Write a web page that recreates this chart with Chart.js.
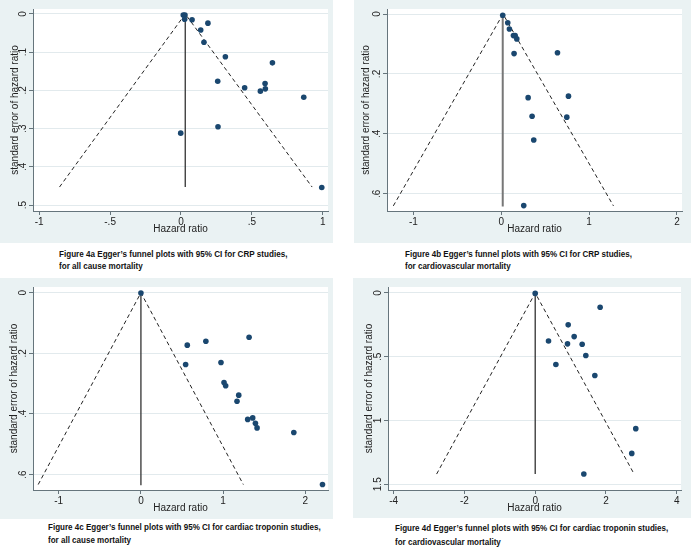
<!DOCTYPE html>
<html>
<head>
<meta charset="utf-8">
<script src="https://cdn.jsdelivr.net/npm/chart.js@4.4.1/dist/chart.umd.min.js"></script>
<style>
  body { margin: 0; background: #fff; width: 691px; height: 549px; position: relative; overflow: hidden; }
  canvas { position: absolute; background: #eaf2f3; }
  .cap { position: absolute; font-family: "Liberation Sans", Arial, sans-serif; font-weight: bold; font-size: 8.6px; line-height: 1; color: #111; white-space: nowrap; transform-origin: 0 50%; }
</style>
</head>
<body>
<canvas id="ca" width="333" height="243" style="left:0;top:0"></canvas>
<canvas id="cb" width="337" height="243" style="left:354px;top:0"></canvas>
<canvas id="cc" width="333" height="241" style="left:0;top:278px"></canvas>
<canvas id="cd" width="338" height="240" style="left:353px;top:278px"></canvas>

<div class="cap" data-w="228" style="left:59px;top:250px">Figure 4a Egger’s funnel plots with 95% CI for CRP studies,</div>
<div class="cap" style="left:59px;top:262px">for all cause mortality</div>
<div class="cap" data-w="227" style="left:405px;top:250px">Figure 4b Egger’s funnel plots with 95% CI for CRP studies,</div>
<div class="cap" style="left:405px;top:262px">for cardiovascular mortality</div>
<div class="cap" data-w="273" style="left:48px;top:523px">Figure 4c Egger’s funnel plots with 95% CI for cardiac troponin studies,</div>
<div class="cap" style="left:48px;top:536px">for all cause mortality</div>
<div class="cap" data-w="273" style="left:395px;top:524px">Figure 4d Egger’s funnel plots with 95% CI for cardiac troponin studies,</div>
<div class="cap" style="left:395px;top:538px">for cardiovascular mortality</div>

<script>
// 4a: CRP, all cause mortality
const aHR = [0.016, 0.028, 0.026, 0.078, 0.19, 0.139, 0.162, 0.313, 0.645, 0.259, 0.593, 0.449, 0.595, 0.56, 0.866, 0.261, -0.002, 0.993];
const aSE = [0.003, 0.003, 0.014, 0.015, 0.024, 0.042, 0.074, 0.112, 0.128, 0.176, 0.182, 0.193, 0.196, 0.202, 0.218, 0.295, 0.312, 0.454];
const aFunnelX = [-0.857, 0.03, 0.925];
const aFunnelY = [0.453, 0, 0.453];
const aLineX = [0.03, 0.03];
const aLineY = [0, 0.453];
const aXTicks = [-1, -0.5, 0, 0.5, 1];
const aYTicks = [0, 0.1, 0.2, 0.3, 0.4, 0.5];
const aXRange = [-1.044, 1.037];
const aYRange = [-0.013, 0.5157];

// 4b: CRP, cardiovascular mortality
const bHR = [0.017, 0.074, 0.093, 0.139, 0.158, 0.177, 0.146, 0.64, 0.306, 0.765, 0.351, 0.746, 0.37, 0.256];
const bSE = [0.004, 0.029, 0.05, 0.072, 0.072, 0.083, 0.132, 0.129, 0.279, 0.274, 0.341, 0.344, 0.42, 0.639];
const bFunnelX = [-1.228, 0.02, 1.277];
const bFunnelY = [0.64, 0, 0.64];
const bLineX = [0.017, 0.017];
const bLineY = [0, 0.642];
const bXTicks = [-1, 0, 1, 2];
const bYTicks = [0, 0.2, 0.4, 0.6];
const bXRange = [-1.30, 2.057];
const bYRange = [-0.0167, 0.657];

// 4c: cardiac troponin, all cause mortality
const cHR = [0, 0.564, 0.79, 1.316, 0.544, 0.974, 1.011, 1.031, 1.19, 1.169, 1.299, 1.36, 1.393, 1.413, 1.86, 2.209];
const cSE = [0.001, 0.173, 0.16, 0.147, 0.237, 0.23, 0.296, 0.307, 0.338, 0.358, 0.418, 0.413, 0.431, 0.446, 0.461, 0.633];
const cFunnelX = [-1.25, 0, 1.246];
const cFunnelY = [0.633, 0, 0.633];
const cLineX = [0, 0];
const cLineY = [0, 0.635];
const cXTicks = [-1, 0, 1, 2];
const cYTicks = [0, 0.2, 0.4, 0.6];
const cXRange = [-1.313, 2.276];
const cYRange = [-0.019, 0.651];

// 4d: cardiac troponin, cardiovascular mortality
const dHR = [0, 1.835, 0.932, 1.101, 0.376, 0.913, 1.327, 1.43, 0.584, 1.685, 2.842, 2.729, 1.374];
const dSE = [0.003, 0.112, 0.25, 0.342, 0.376, 0.399, 0.402, 0.49, 0.561, 0.647, 1.064, 1.258, 1.419];
const dFunnelX = [-2.786, 0, 2.795];
const dFunnelY = [1.42, 0, 1.42];
const dLineX = [0, 0];
const dLineY = [0, 1.42];
const dXTicks = [-4, -2, 0, 2, 4];
const dYTicks = [0, 0.5, 1, 1.5];
const dXRange = [-4.16, 4.12];
const dYRange = [-0.047, 1.545];

const X_TITLE = 'Hazard ratio';
const Y_TITLE = 'standard error of hazard ratio';

const FONT = '"Liberation Sans", Arial, sans-serif';
const AXIS = '#66757c';
const GRID = '#e2eaed';
const MARK = '#1a476f';

// stata style labels: .5 instead of 0.5
function stataLabel(v) {
  const r = Math.round(v * 1000) / 1000;
  if (r === 0) return '0';
  return String(r).replace(/^(-?)0\./, '$1.');
}

const plotBg = {
  id: 'plotBg',
  beforeDraw(chart) {
    const a = chart.chartArea;
    const ctx = chart.ctx;
    ctx.save();
    ctx.fillStyle = '#fff';
    ctx.fillRect(a.left, a.top, a.right - a.left, a.bottom - a.top);
    ctx.restore();
  }
};

// y labels turned on their side like stata does
const sideLabels = {
  id: 'sideLabels',
  afterDraw(chart, args, opts) {
    const s = chart.scales.y;
    const ctx = chart.ctx;
    ctx.save();
    ctx.font = '10px ' + FONT;
    ctx.fillStyle = '#222';
    ctx.textAlign = 'center';
    ctx.textBaseline = 'middle';
    s.ticks.forEach(t => {
      ctx.save();
      ctx.translate(s.right - opts.gap, s.getPixelForValue(t.value));
      ctx.rotate(-Math.PI / 2);
      ctx.fillText(stataLabel(t.value), 0, 0);
      ctx.restore();
    });
    ctx.restore();
  }
};

function pts(xs, ys) {
  return xs.map((x, i) => ({ x: x, y: ys[i] }));
}

const panels = [
  { id: 'ca', hr: aHR, se: aSE, fx: aFunnelX, fy: aFunnelY, lx: aLineX, ly: aLineY, xt: aXTicks, yt: aYTicks, xr: aXRange, yr: aYRange,
    box: { x: 0, y: 0, w: 333, h: 243 }, plot: { l: 33, r: 328, t: 9, b: 211 }, ytx: 15, xty: 229, lineCol: '#333', lineW: 1.3 },
  { id: 'cb', hr: bHR, se: bSE, fx: bFunnelX, fy: bFunnelY, lx: bLineX, ly: bLineY, xt: bXTicks, yt: bYTicks, xr: bXRange, yr: bYRange,
    box: { x: 354, y: 0, w: 337, h: 243 }, plot: { l: 387, r: 682, t: 9, b: 211 }, ytx: 366, xty: 229, lineCol: '#777', lineW: 2 },
  { id: 'cc', hr: cHR, se: cSE, fx: cFunnelX, fy: cFunnelY, lx: cLineX, ly: cLineY, xt: cXTicks, yt: cYTicks, xr: cXRange, yr: cYRange,
    box: { x: 0, y: 278, w: 333, h: 241 }, plot: { l: 33, r: 328, t: 287, b: 490 }, ytx: 14, xty: 508, lineCol: '#333', lineW: 1.3 },
  { id: 'cd', hr: dHR, se: dSE, fx: dFunnelX, fy: dFunnelY, lx: dLineX, ly: dLineY, xt: dXTicks, yt: dYTicks, xr: dXRange, yr: dYRange,
    box: { x: 353, y: 278, w: 338, h: 240 }, plot: { l: 388, r: 681, t: 287, b: 490 }, ytx: 369, xty: 508, lineCol: '#333', lineW: 1.3 }
];

panels.forEach(p => {
  const b = p.box, pl = p.plot;
  new Chart(document.getElementById(p.id), {
    type: 'scatter',
    data: {
      datasets: [
        { data: pts(p.hr, p.se), backgroundColor: MARK, borderColor: MARK, pointRadius: 2.8, pointBorderWidth: 0 },
        { type: 'line', data: pts(p.lx, p.ly), borderColor: p.lineCol, borderWidth: p.lineW, pointRadius: 0, fill: false },
        { type: 'line', data: pts(p.fx, p.fy), borderColor: '#222', borderWidth: 1, borderDash: [4, 3], pointRadius: 0, fill: false, tension: 0 }
      ]
    },
    options: {
      responsive: false,
      animation: false,
      events: [],
      layout: { autoPadding: false, padding: { top: pl.t - b.y, right: b.x + b.w - pl.r, left: 0, bottom: 0 } },
      plugins: { legend: { display: false }, tooltip: { enabled: false }, sideLabels: { gap: 10 } },
      scales: {
        x: {
          type: 'linear', min: p.xr[0], max: p.xr[1],
          afterBuildTicks: s => { s.ticks = p.xt.map(v => ({ value: v })); },
          afterFit: s => { s.height = b.y + b.h - pl.b; },
          ticks: { callback: v => stataLabel(v), font: { family: FONT, size: 10 }, color: '#222', padding: 1, maxRotation: 0, minRotation: 0, autoSkip: false },
          grid: { drawOnChartArea: false, drawTicks: true, tickLength: 4, tickColor: AXIS },
          border: { color: AXIS, width: 1 },
          title: { display: true, text: X_TITLE, font: { family: FONT, size: 10 }, color: '#222', padding: { top: 0, bottom: b.y + b.h - p.xty - 6 } }
        },
        y: {
          type: 'linear', reverse: true, min: p.yr[0], max: p.yr[1],
          afterBuildTicks: s => { s.ticks = p.yt.map(v => ({ value: v })); },
          afterFit: s => { s.width = pl.l - b.x; },
          ticks: { display: false },
          grid: { color: GRID, lineWidth: 1, drawTicks: true, tickLength: 4, tickColor: AXIS },
          border: { color: AXIS, width: 1 },
          title: { display: true, text: Y_TITLE, font: { family: FONT, size: 10 }, color: '#222', padding: { top: p.ytx - b.x - 6, bottom: 0 } }
        }
      }
    },
    plugins: [plotBg, sideLabels]
  });
});

// squeeze captions to the width they have in the figure
let sc = 1;
document.querySelectorAll('.cap').forEach(el => {
  if (el.dataset.w) sc = Number(el.dataset.w) / el.offsetWidth;
  el.style.transform = 'scaleX(' + sc + ')';
});
</script>
</body>
</html>
